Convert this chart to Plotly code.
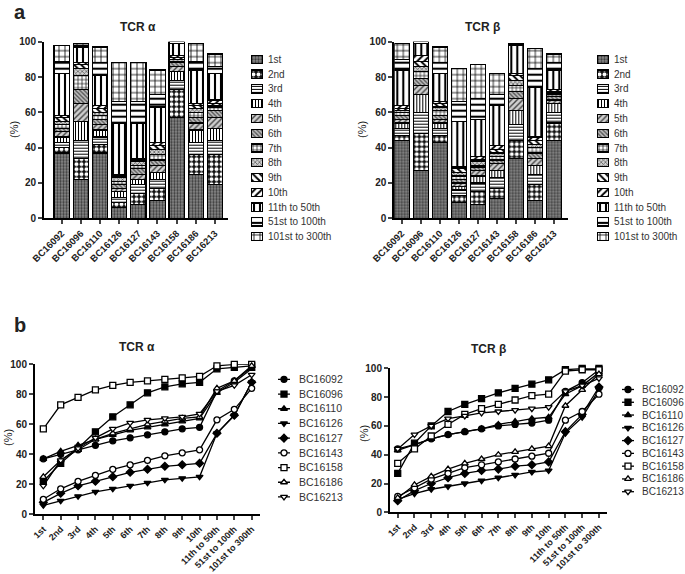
import numpy as np
import plotly.graph_objects as go

samples = ["BC16092", "BC16096", "BC16110", "BC16126", "BC16127",
           "BC16143", "BC16158", "BC16186", "BC16213"]
ranks = ["1st", "2nd", "3rd", "4th", "5th", "6th", "7th", "8th", "9th", "10th",
         "11th to 50th", "51st to 100th", "101st to 300th"]
y_ticks = [0, 20, 40, 60, 80, 100]

# cumulative percentage of repertoire covered (TCR alpha)
tra_BC16092 = [37, 40, 43, 46, 49, 51, 53, 55, 57, 58, 82, 89, 98]
tra_BC16096 = [22, 34, 44, 55, 65, 73, 81, 85, 87, 88, 97, 98, 99]
tra_BC16110 = [37, 42, 46, 50, 53, 56, 58, 60, 62, 64, 81, 88, 97]
tra_BC16126 = [6, 9, 12, 15, 17, 19, 21, 23, 24, 25, 54, 66, 88]
tra_BC16127 = [8, 14, 19, 22, 25, 28, 30, 32, 33, 34, 54, 66, 88]
tra_BC16143 = [10, 17, 22, 26, 30, 33, 36, 39, 41, 43, 63, 70, 84]
tra_BC16158 = [57, 73, 78, 83, 86, 88, 89, 90, 91, 92, 99, 100, 100]
tra_BC16186 = [25, 36, 43, 50, 54, 57, 60, 62, 64, 65, 84, 89, 99]
tra_BC16213 = [19, 36, 44, 51, 57, 61, 63, 64, 65, 67, 82, 86, 93]

# cumulative percentage of repertoire covered (TCR beta)
trb_BC16092 = [44, 47, 51, 54, 56, 58, 60, 61, 62, 64, 84, 90, 99]
trb_BC16096 = [27, 48, 60, 70, 75, 79, 83, 86, 89, 92, 99, 100, 100]
trb_BC16110 = [43, 47, 51, 54, 56, 58, 61, 63, 65, 66, 82, 88, 97]
trb_BC16126 = [9, 13, 16, 18, 20, 22, 24, 26, 28, 29, 55, 66, 85]
trb_BC16127 = [8, 15, 20, 24, 27, 29, 30, 32, 33, 35, 56, 68, 87]
trb_BC16143 = [11, 17, 23, 27, 31, 33, 35, 37, 39, 41, 64, 70, 82]
trb_BC16158 = [34, 44, 53, 61, 68, 72, 75, 78, 81, 82, 98, 99, 99]
trb_BC16186 = [10, 19, 25, 30, 34, 37, 40, 42, 44, 46, 74, 85, 96]
trb_BC16213 = [44, 54, 60, 65, 67, 69, 70, 71, 72, 73, 84, 88, 93]

tra = np.array([tra_BC16092, tra_BC16096, tra_BC16110, tra_BC16126, tra_BC16127,
                tra_BC16143, tra_BC16158, tra_BC16186, tra_BC16213], dtype=float)
trb = np.array([trb_BC16092, trb_BC16096, trb_BC16110, trb_BC16126, trb_BC16127,
                trb_BC16143, trb_BC16158, trb_BC16186, trb_BC16213], dtype=float)

# ---- styles ----
FONT = "Liberation Sans, Arial, sans-serif"
pat_shape = [".", ".", "-", "|", "/", "\\", "+", "x", "\\", "/", "|", "-", "+"]
pat_bg = ["#8a8a8a", "#111111", "white", "white", "#cfcfcf", "#bdbdbd", "white",
          "#d0d0d0", "white", "white", "white", "white", "white"]
pat_fg = ["#3c3c3c", "white", "black", "black", "#444444", "#555555", "black",
          "#555555", "black", "black", "black", "black", "black"]
pat_size = [3, 5, 3, 3, 4, 3, 4, 3, 5, 5, 6, 6, 6]
pat_solid = [0.45, 0.5, 0.35, 0.35, 0.35, 0.45, 0.3, 0.4, 0.4, 0.4, 0.35, 0.35, 0.25]

line_symbols = ["circle", "square", "triangle-up", "triangle-down", "diamond",
                "circle", "square", "triangle-up", "triangle-down"]
line_filled = [True, True, True, True, True, False, False, False, False]

W, H = 685, 574


def px_x(a, b):
    return [a / W, b / W]


def px_y(top, bottom):
    return [1 - bottom / H, 1 - top / H]


fig = go.Figure()


def pattern(i):
    return dict(shape=pat_shape[i], bgcolor=pat_bg[i], fgcolor=pat_fg[i],
                size=pat_size[i], solidity=pat_solid[i], fillmode="replace")


# ---- panel a: stacked bars ----
for ax, cum in (("", tra), ("2", trb)):
    seg = np.diff(np.concatenate([np.zeros((cum.shape[0], 1)), cum], axis=1), axis=1)
    for i, r in enumerate(ranks):
        fig.add_trace(go.Bar(
            x=samples, y=seg[:, i], name=r, showlegend=False,
            xaxis="x" + ax, yaxis="y" + ax, width=0.8,
            marker=dict(color=pat_bg[i], pattern=pattern(i),
                        line=dict(color="black", width=1.2))))

# legends for panel a
for ax in ("5", "6"):
    for i, r in enumerate(ranks):
        fig.add_trace(go.Bar(
            x=[1], y=[r], orientation="h", showlegend=False, width=0.55,
            xaxis="x" + ax, yaxis="y" + ax, hoverinfo="skip",
            marker=dict(color=pat_bg[i], pattern=pattern(i),
                        line=dict(color="black", width=1.2))))

# ---- panel b: cumulative lines ----
for ax, cum in (("3", tra), ("4", trb)):
    for k, s in enumerate(samples):
        fig.add_trace(go.Scatter(
            x=ranks, y=cum[k], mode="lines+markers", name=s, showlegend=False,
            xaxis="x" + ax, yaxis="y" + ax, cliponaxis=False,
            line=dict(color="black", width=1.3),
            marker=dict(symbol=line_symbols[k], size=6,
                        color="black" if line_filled[k] else "white",
                        line=dict(color="black", width=1.3))))

# legends for panel b
for ax in ("7", "8"):
    for k, s in enumerate(samples):
        fig.add_trace(go.Scatter(
            x=[0, 0.5, 1], y=[s, s, s], mode="lines+markers", showlegend=False,
            xaxis="x" + ax, yaxis="y" + ax, cliponaxis=False, hoverinfo="skip",
            line=dict(color="black", width=1.3),
            marker=dict(symbol=line_symbols[k], size=6, opacity=[0, 1, 0],
                        color="black" if line_filled[k] else "white",
                        line=dict(color="black", width=1.3))))

tick_font = dict(family=FONT, size=10, color="#222", weight="bold")


def yax(domain, anchor):
    return dict(domain=domain, anchor=anchor, range=[0, 100], tickvals=y_ticks,
                showline=True, linewidth=2, linecolor="black", ticks="outside",
                ticklen=4, tickwidth=1.5, showgrid=False, zeroline=False,
                tickfont=tick_font, fixedrange=True, automargin=False)


def xax(domain, anchor, rng, cats, size):
    return dict(domain=domain, anchor=anchor, type="category", categoryarray=cats,
                categoryorder="array", range=rng, showline=True, linewidth=2,
                linecolor="black", ticks="outside", ticklen=4, tickwidth=1.5,
                tickmode="array", tickvals=cats, ticktext=cats, automargin=False,
                tickangle=-45, showgrid=False, zeroline=False,
                tickfont=dict(family=FONT, size=size, color="#222", weight="bold"))


def legx(domain, anchor):
    return dict(domain=domain, anchor=anchor, range=[0, 1], visible=False,
                automargin=False)


def legy(domain, anchor, cats, standoff, size):
    n = len(cats)
    return dict(domain=domain, anchor=anchor, type="category", categoryarray=cats,
                categoryorder="array", range=[n - 0.5, -0.5], side="right",
                tickmode="array", tickvals=cats, ticktext=cats, automargin=False,
                showline=False, showgrid=False, zeroline=False, ticks="",
                ticklen=0, ticklabelstandoff=standoff,
                tickfont=dict(family=FONT, size=size, color="#333"))


fig.update_layout(
    template="none",
    width=W, height=H, margin=dict(l=0, r=0, t=0, b=0, autoexpand=False),
    paper_bgcolor="white", plot_bgcolor="white", barmode="stack",
    showlegend=False, font=dict(family=FONT, color="#222"),
    xaxis=xax(px_x(44, 228), "y", [-0.92, 8.68], samples, 9.5),
    yaxis=yax(px_y(41.7, 218.3), "x"),
    xaxis2=xax(px_x(394.3, 568), "y2", [-0.39, 8.74], samples, 9.5),
    yaxis2=yax(px_y(41.7, 218.3), "x2"),
    xaxis3=xax(px_x(35, 260), "y3", [-0.48, 12.48], ranks, 9),
    yaxis3=yax(px_y(364.3, 514.3), "x3"),
    xaxis4=xax(px_x(390, 607), "y4", [-0.46, 12.48], ranks, 9),
    yaxis4=yax(px_y(368.3, 512.3), "x4"),
    xaxis5=legx(px_x(251, 263), "y5"),
    yaxis5=legy(px_y(51.9, 244.1), "x5", ranks, 4, 10),
    xaxis6=legx(px_x(597, 609), "y6"),
    yaxis6=legy(px_y(51.9, 244.1), "x6", ranks, 4, 10),
    xaxis7=legx(px_x(278, 290), "y7"),
    yaxis7=legy(px_y(372, 504.3), "x7", samples, 8, 10.5),
    xaxis8=legx(px_x(622, 634), "y8"),
    yaxis8=legy(px_y(383.1, 498.1), "x8", samples, 7, 10),
)

ann = [
    dict(text="<b>a</b>", x=20 / W, y=1 - 12 / H, font=dict(size=20)),
    dict(text="<b>b</b>", x=20 / W, y=1 - 325 / H, font=dict(size=20)),
    dict(text="<b>TCR α</b>", x=138 / W, y=1 - 27 / H, font=dict(size=12)),
    dict(text="<b>TCR β</b>", x=482 / W, y=1 - 27 / H, font=dict(size=12)),
    dict(text="<b>TCR α</b>", x=137 / W, y=1 - 347 / H, font=dict(size=12)),
    dict(text="<b>TCR β</b>", x=488 / W, y=1 - 349 / H, font=dict(size=12)),
    dict(text="(%)", x=14 / W, y=1 - 130 / H, textangle=-90, font=dict(size=11)),
    dict(text="(%)", x=362 / W, y=1 - 130 / H, textangle=-90, font=dict(size=11)),
    dict(text="(%)", x=8 / W, y=1 - 437 / H, textangle=-90, font=dict(size=11)),
    dict(text="(%)", x=364 / W, y=1 - 434 / H, textangle=-90, font=dict(size=11)),
]
for a in ann:
    a.update(xref="paper", yref="paper", showarrow=False, xanchor="center",
             yanchor="middle")
    a["font"].update(family=FONT, color="#222")
fig.update_layout(annotations=ann)

fig.write_html("out.html",
               config={"displayModeBar": False},
               post_script="document.body.style.margin='0px';"
                           "document.body.style.padding='0px';")
